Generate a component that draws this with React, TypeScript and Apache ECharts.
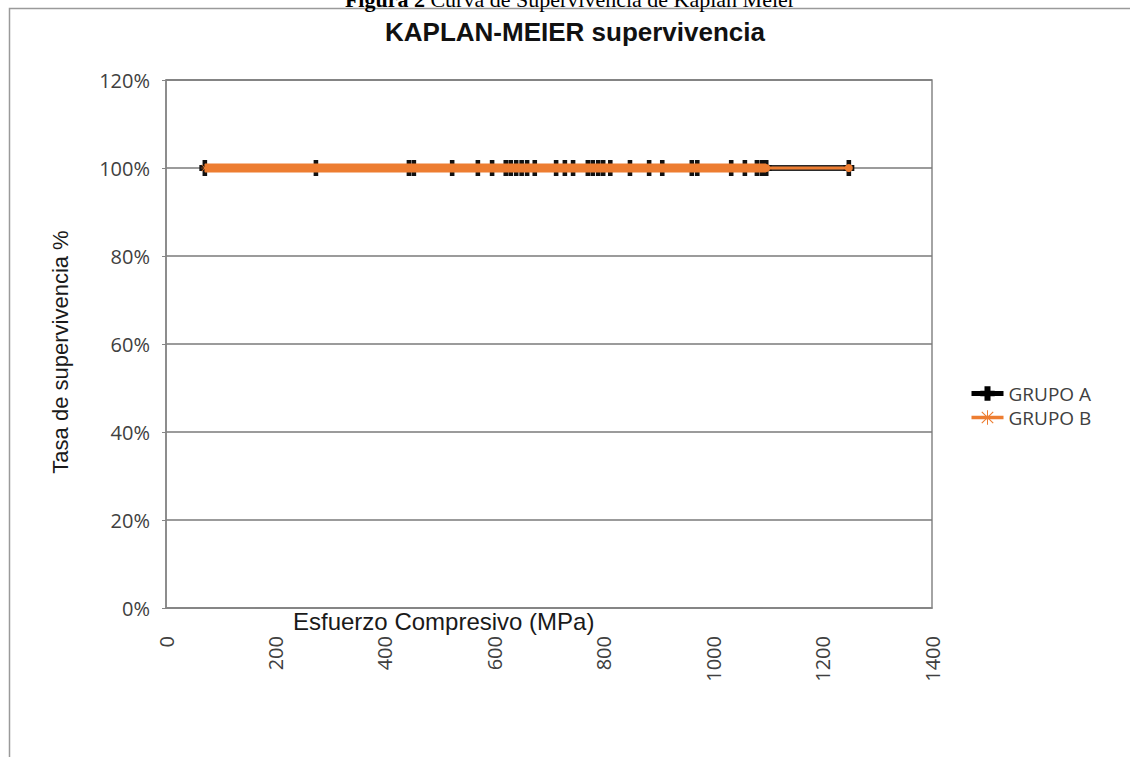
import React, { useEffect, useRef } from "react";
import * as echarts from "echarts";

const stressA = [71, 274, 444, 453, 523, 570, 596, 621, 630, 640, 650, 660, 674, 713, 729, 744, 771, 780, 790, 799, 812, 848, 883, 907, 961, 971, 1033, 1058, 1080, 1089, 1097, 1248];
const survivalA = [100, 100, 100, 100, 100, 100, 100, 100, 100, 100, 100, 100, 100, 100, 100, 100, 100, 100, 100, 100, 100, 100, 100, 100, 100, 100, 100, 100, 100, 100, 100, 100];
const stressB = [71, 274, 444, 453, 523, 570, 596, 621, 630, 640, 650, 660, 674, 713, 729, 744, 771, 780, 790, 799, 812, 848, 883, 907, 961, 971, 1033, 1058, 1080, 1089, 1097];
const survivalB = [100, 100, 100, 100, 100, 100, 100, 100, 100, 100, 100, 100, 100, 100, 100, 100, 100, 100, 100, 100, 100, 100, 100, 100, 100, 100, 100, 100, 100, 100, 100];
const stressTail = [1097, 1248];
const survivalTail = [100, 100];

const seriesNames = ["GRUPO A", "GRUPO B"];
const yTicks = { min: 0, max: 120, interval: 20 };
const xTicks = { min: 0, max: 1400, interval: 200 };

const PLUS = "path://M3.5,0 H8.5 V4 H12 V9 H8.5 V13 H3.5 V9 H0 V4 H3.5 Z";
const STAR =
  "path://M0,9.1 H20 V10.9 H0 Z M9.3,0 H10.7 V20 H9.3 Z M1.5,2.6 L2.6,1.5 L18.5,17.4 L17.4,18.5 Z M17.4,1.5 L18.5,2.6 L2.6,18.5 L1.5,17.4 Z";

export default function App() {
  const ref = useRef<HTMLDivElement>(null);
  useEffect(() => {
    if (!ref.current) return;
    const chart = echarts.init(ref.current, undefined, { renderer: "svg" });
    const font = "'Open Sans', sans-serif";
    const sans = "'Liberation Sans', sans-serif";
    chart.setOption({
      animation: false,
      backgroundColor: "#ffffff",
      grid: { left: 166, right: 198, top: 80, bottom: 149, show: true, borderColor: "#868686", borderWidth: 1.5 },
      legend: {
        data: [
          { name: seriesNames[0], itemStyle: { color: "#000" }, lineStyle: { color: "#000", width: 5 } },
          { name: seriesNames[1], itemStyle: { color: "#ED7D31" }, lineStyle: { color: "#ED7D31", width: 3.5 } },
        ],
        orient: "vertical",
        left: 964,
        top: 379,
        itemWidth: 32,
        itemHeight: 18,
        itemGap: 5,
        textStyle: { fontFamily: font, fontSize: 19, color: "#404040" },
      },
      xAxis: {
        type: "value",
        min: xTicks.min,
        max: xTicks.max,
        interval: xTicks.interval,
        splitLine: { show: false },
        axisLine: { lineStyle: { color: "#868686", width: 1.5 } },
        axisTick: { show: false },
        axisLabel: {
          rotate: 90,
          margin: 28,
          fontFamily: font,
          fontSize: 20,
          color: "#404040",
          formatter: (v: number) => String(v),
        },
      },
      yAxis: {
        type: "value",
        min: yTicks.min,
        max: yTicks.max,
        interval: yTicks.interval,
        axisLine: { show: true, lineStyle: { color: "#868686", width: 1.5 } },
        axisTick: { show: true, length: 4, lineStyle: { color: "#868686" } },
        axisLabel: { formatter: "{value}%", margin: 16, fontFamily: font, fontSize: 20, color: "#404040" },
        splitLine: { show: true, lineStyle: { color: "#7a7a7a", width: 1.5 } },
      },
      series: [
        {
          name: seriesNames[0],
          type: "line",
          z: 2,
          data: stressA.map((x, i) => [x, survivalA[i]]),
          symbol: PLUS,
          symbolSize: [11, 16],
          itemStyle: { color: "#111111" },
          lineStyle: { color: "#2a2a2a", width: 6 },
        },
        {
          name: seriesNames[1],
          type: "line",
          z: 3,
          data: stressB.map((x, i) => [x, survivalB[i]]),
          symbol: STAR,
          symbolSize: 8,
          itemStyle: { color: "#ED7D31" },
          lineStyle: { color: "#ED7D31", width: 9 },
        },
        {
          name: "tail",
          type: "line",
          z: 4,
          data: stressTail.map((x, i) => [x, survivalTail[i]]),
          symbol: "circle",
          symbolSize: 8,
          itemStyle: { color: "#ED7D31" },
          lineStyle: { color: "#ED7D31", width: 3 },
        },
      ],
      graphic: [
        {
          type: "rect",
          silent: true,
          shape: { x: 9.5, y: 8.5, width: 1130, height: 760 },
          style: { fill: "none", stroke: "#9a9a9a", lineWidth: 1.5 },
        },
        {
          type: "text",
          x: 570,
          y: 10,
          style: {
            text: "{b|Figura 2} Curva de Supervivencia de Kaplan Meier",
            rich: { b: { fontWeight: "bold", fontFamily: "'Liberation Serif', serif", fontSize: 22 } },
            fontFamily: "'Liberation Serif', serif",
            fontSize: 22,
            fill: "#000",
            align: "center",
            verticalAlign: "bottom",
          },
        },
        {
          type: "text",
          x: 575,
          y: 32,
          style: {
            text: "KAPLAN-MEIER supervivencia",
            fontFamily: sans,
            fontWeight: "bold",
            fontSize: 26,
            fill: "#111",
            align: "center",
            verticalAlign: "middle",
          },
        },
        {
          type: "text",
          x: 60,
          y: 352,
          rotation: Math.PI / 2,
          style: {
            text: "Tasa de supervivencia %",
            fontFamily: sans,
            fontSize: 22,
            fill: "#1a1a1a",
            align: "center",
            verticalAlign: "middle",
          },
        },
        {
          type: "text",
          x: 293,
          y: 621,
          style: {
            text: "Esfuerzo Compresivo (MPa)",
            fontFamily: sans,
            fontSize: 24,
            fill: "#1a1a1a",
            align: "left",
            verticalAlign: "middle",
          },
        },
      ],
    });
    return () => chart.dispose();
  }, []);
  return <div ref={ref} style={{ position: "fixed", left: 0, top: 0, width: 1130, height: 757 }} />;
}
